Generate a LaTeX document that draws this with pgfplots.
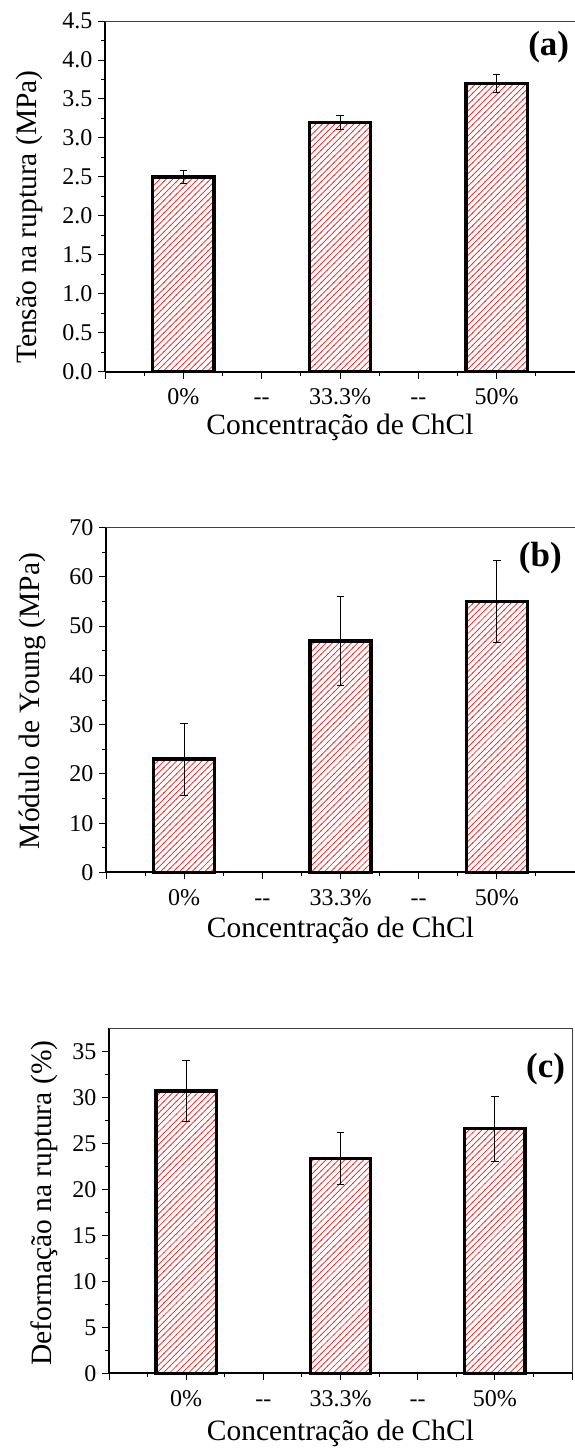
\documentclass[border=0pt]{standalone}
\usepackage{fontspec}
\setmainfont{Liberation Serif}
\usepackage{pgfplots}
\pgfplotsset{compat=1.18}
\usetikzlibrary{patterns}

% thin diagonal hatch, 6.3pt horizontal pitch
\pgfdeclarepatternformonly{hatchNE}{\pgfqpoint{-1pt}{-1pt}}{\pgfqpoint{7.3pt}{7.3pt}}{\pgfqpoint{6.3pt}{6.3pt}}{
  \pgfsetlinewidth{0.7pt}
  \pgfpathmoveto{\pgfqpoint{-0.5pt}{-0.5pt}}
  \pgfpathlineto{\pgfqpoint{6.8pt}{6.8pt}}
  \pgfusepath{stroke}
}
\definecolor{hatchred}{RGB}{255,25,25}

% common look of the three mechanical-property panels
\pgfplotsset{
  mech/.style={
    scale only axis,
    anchor=south west,
    clip=false,
    xmin=0, xmax=6,
    ymin=0,
    xtick={0,1,2,3,4,5,6},
    xticklabels={,0\%,-{}-,33.3\%,-{}-,50\%,},
    minor x tick num=1,
    minor y tick num=1,
    axis x line*=bottom,
    axis y line*=left,
    x axis line style={line width=2pt,-},
    y axis line style={line width=1.2pt,-},
    tick align=outside,
    major tick length=7pt,
    minor tick length=4pt,
    every tick/.append style={black, line width=0.9pt},
    tick label style={font=\fontsize{24}{28}\selectfont},
    xticklabel style={anchor=base, yshift=-26pt},
    yticklabel style={xshift=-2pt},
    label style={font=\fontsize{29.5}{34}\selectfont},
    /pgf/number format/assume math mode=true,
    xlabel={Concentração de ChCl},
    ybar,
    bar width=0.78,
  },
  bars/.style={
    draw=black,
    line width=3.3pt,
    pattern=hatchNE,
    pattern color=hatchred,
    error bars/.cd,
      y dir=both, y explicit,
      error bar style={line width=0.9pt, black},
      error mark options={rotate=90, mark size=3.8pt, line width=0.9pt, black},
  },
}

\begin{document}
\begin{tikzpicture}
\path[use as bounding box] (0pt,0pt) rectangle (574pt,1448pt);

% (a) tensile strength
\begin{axis}[mech,
  at={(105pt,1076.3pt)}, width=470pt, height=350.7pt,
  ymax=4.5, ytick={0,0.5,...,4.5},
  yticklabel style={/pgf/number format/fixed,
    /pgf/number format/fixed zerofill,
    /pgf/number format/precision=1},
  ylabel={Tensão na ruptura (MPa)},
  xlabel style={at={(axis description cs:0.5,0)}, anchor=base, yshift=-63pt},
  ylabel style={at={(axis description cs:-0.145,0.441)}, anchor=base},
]
\addplot[bars] coordinates {
  (1,2.5) +- (0,0.08)
  (3,3.2) +- (0,0.09)
  (5,3.7) +- (0,0.12)
};
\draw[line width=0.7pt, black!75] (rel axis cs:0,1) -- (rel axis cs:1,1) -- (rel axis cs:1,0);
\node[anchor=base, font=\fontsize{35}{40}\selectfont\bfseries] at (rel axis cs:0.944,0.903) {(a)};
\end{axis}

% (b) Young's modulus
\begin{axis}[mech,
  at={(106pt,575.5pt)}, width=469pt, height=345pt,
  ymax=70, ytick={0,10,...,70},
  ylabel={Módulo de Young (MPa)},
  xlabel style={at={(axis description cs:0.5,0)}, anchor=base, yshift=-65pt},
  ylabel style={at={(axis description cs:-0.141,0.497)}, anchor=base},
]
\addplot[bars] coordinates {
  (1,23) +- (0,7.3)
  (3,47) +- (0,9.0)
  (5,55) +- (0,8.4)
};
\draw[line width=0.7pt, black!75] (rel axis cs:0,1) -- (rel axis cs:1,1) -- (rel axis cs:1,0);
\node[anchor=base, font=\fontsize{35}{40}\selectfont\bfseries] at (rel axis cs:0.926,0.887) {(b)};
\end{axis}

% (c) elongation at break
\begin{axis}[mech,
  at={(109pt,74.5pt)}, width=463pt, height=345pt,
  ymax=37.5, ytick={0,5,...,35},
  ylabel={Deformação na ruptura (\%)},
  xlabel style={at={(axis description cs:0.5,0)}, anchor=base, yshift=-67pt},
  ylabel style={at={(axis description cs:-0.125,0.494)}, anchor=base},
]
\addplot[bars] coordinates {
  (1,30.7) +- (0,3.35)
  (3,23.4) +- (0,2.8)
  (5,26.6) +- (0,3.5)
};
\draw[line width=0.7pt, black!75] (rel axis cs:0,1) -- (rel axis cs:1,1) -- (rel axis cs:1,0);
\node[anchor=base, font=\fontsize{35}{40}\selectfont\bfseries] at (rel axis cs:0.943,0.858) {(c)};
\end{axis}
\end{tikzpicture}
\end{document}
